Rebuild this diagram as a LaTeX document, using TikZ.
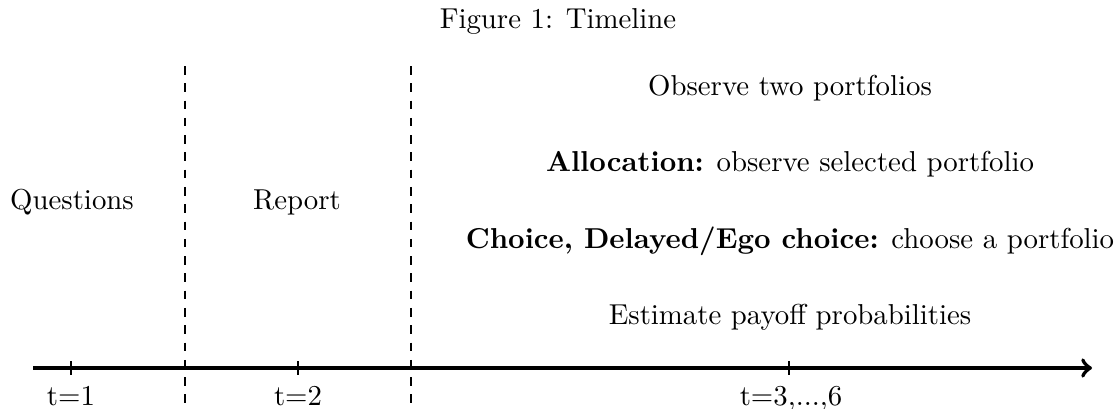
\documentclass[tikz,border=0pt]{standalone}
\begin{document}
\begin{tikzpicture}[x=0.3472pt, y=-0.3472pt,
  axisline/.style={line width=1.4pt, ->},
  tickmark/.style={line width=0.4pt},
  divider/.style={dashed, line width=0.4pt},
  lbl/.style={inner sep=0pt, anchor=base},
]
\useasboundingbox (0,0) rectangle (1117,408);
% title
\node[lbl] (title) at (558,28) {Figure 1: Timeline};
% axis
\coordinate (astart) at (33,368);
\coordinate (aend) at (1092,368);
\draw[axisline] (astart) -- (aend);
% ticks
\coordinate (t1top) at (71,361);   \coordinate (t1bot) at (71,375);
\coordinate (t2top) at (298,361);  \coordinate (t2bot) at (298,375);
\coordinate (t3top) at (789,361);  \coordinate (t3bot) at (789,375);
\draw[tickmark] (t1top) -- (t1bot);
\draw[tickmark] (t2top) -- (t2bot);
\draw[tickmark] (t3top) -- (t3bot);
\node[lbl] (l1) at (71,405) {t$=$1};
\node[lbl] (l2) at (298,405) {t$=$2};
\node[lbl] (l3) at (791,405) {t$=$3,...,6};
% dividers
\coordinate (d1top) at (185,66); \coordinate (d1bot) at (185,408);
\coordinate (d2top) at (411,66); \coordinate (d2bot) at (411,408);
\draw[divider] (d1top) -- (d1bot);
\draw[divider] (d2top) -- (d2bot);
% phases
\node[lbl] (questions) at (72,209) {Questions};
\node[lbl] (report) at (297,209) {Report};
\node[lbl] (observe) at (790,95) {Observe two portfolios};
\node[lbl] (alloc) at (790,171) {\textbf{Allocation:} observe selected portfolio};
\node[lbl] (choice) at (790,248) {\textbf{Choice, Delayed/Ego choice:} choose a portfolio};
\node[lbl] (estimate) at (790,324) {Estimate payoff probabilities};
\end{tikzpicture}
\end{document}
